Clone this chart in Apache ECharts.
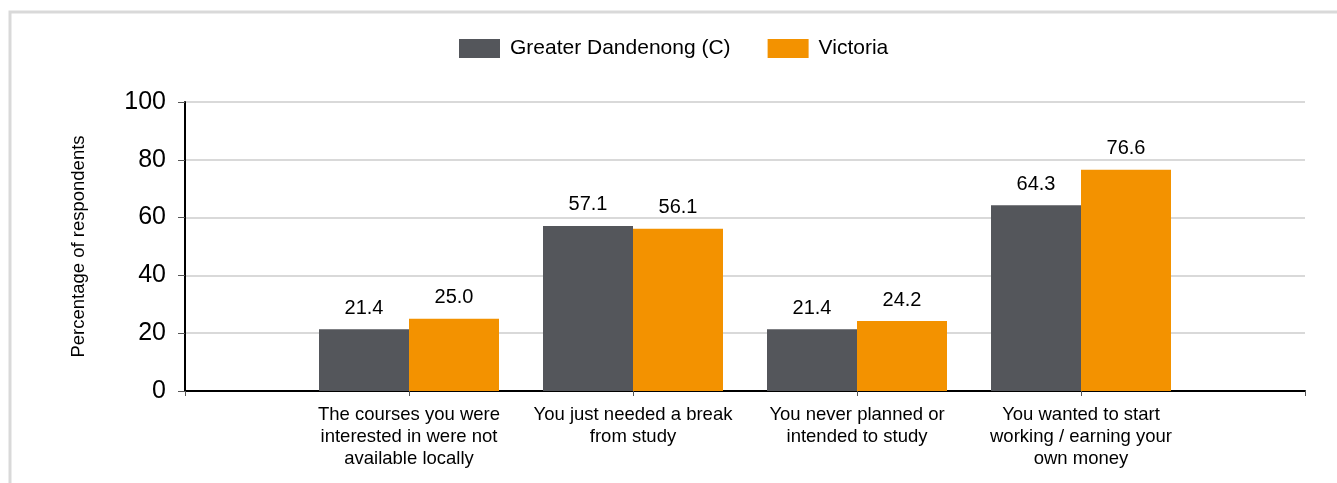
<!DOCTYPE html>
<html>
<head>
<meta charset="utf-8">
<script src="https://cdn.jsdelivr.net/npm/echarts@6/dist/echarts.min.js"></script>
<style>
html,body{margin:0;padding:0;background:#fff;}
#chart{width:1337px;height:483px;}
</style>
</head>
<body>
<div id="chart"></div>
<script>
const categories = ['', 'The courses you were\ninterested in were not\navailable locally', 'You just needed a break\nfrom study', 'You never planned or\nintended to study', 'You wanted to start\nworking / earning your\nown money', ''];
const seriesNames = ['Greater Dandenong (C)', 'Victoria'];
const dandenong = ['-', 21.4, 57.1, 21.4, 64.3, '-'];
const victoria = ['-', 25.0, 56.1, 24.2, 76.6, '-'];
const yTicks = [0, 20, 40, 60, 80, 100];

const chart = echarts.init(document.getElementById('chart'));
const font = 'Liberation Sans, Arial, sans-serif';
const labelCfg = {
  show: true, position: 'top', distance: 11, color: '#000', fontSize: 20, fontFamily: font,
  formatter: p => Number(p.value).toFixed(1)
};
chart.setOption({
  animation: false,
  textStyle: { fontFamily: font },
  graphic: [{
    type: 'rect', shape: { x: 10, y: 12, width: 1340, height: 480 },
    style: { fill: 'none', stroke: '#d9d9d9', lineWidth: 3 }, z: -1
  }],
  legend: {
    top: 33, left: 454, itemWidth: 41, itemHeight: 19, itemGap: 37,
    icon: 'rect',
    textStyle: { fontSize: 21, color: '#000', fontFamily: font, padding: [0, 0, 0, 5] },
    data: seriesNames
  },
  grid: { left: 185, right: 32, top: 102, bottom: 92 },
  xAxis: {
    type: 'category', data: categories, boundaryGap: false,
    axisLine: { lineStyle: { color: '#000', width: 2 } },
    axisTick: { show: true, length: 5, lineStyle: { color: '#555', width: 1 } },
    axisLabel: { interval: 0, color: '#000', fontSize: 18.5, lineHeight: 22, margin: 13, fontFamily: font },
    splitLine: { show: false }
  },
  yAxis: {
    type: 'value', min: yTicks[0], max: yTicks[yTicks.length - 1], interval: 20,
    name: 'Percentage of respondents', nameLocation: 'middle', nameGap: 97, nameRotate: 90,
    nameTextStyle: { fontSize: 18.5, color: '#000', fontFamily: font },
    axisLine: { show: true, lineStyle: { color: '#000', width: 2 } },
    axisTick: { show: true, length: 7, lineStyle: { color: '#555', width: 1 } },
    axisLabel: { color: '#000', fontSize: 25, margin: 19, fontFamily: font },
    splitLine: { lineStyle: { color: '#d9d9d9', width: 2 } }
  },
  series: [
    { name: seriesNames[0], type: 'bar', data: dandenong, barWidth: 90, barGap: '0%',
      itemStyle: { color: '#54565b' }, label: labelCfg },
    { name: seriesNames[1], type: 'bar', data: victoria, barWidth: 90, barGap: '0%',
      itemStyle: { color: '#f39200' }, label: labelCfg }
  ]
});
</script>
</body>
</html>
